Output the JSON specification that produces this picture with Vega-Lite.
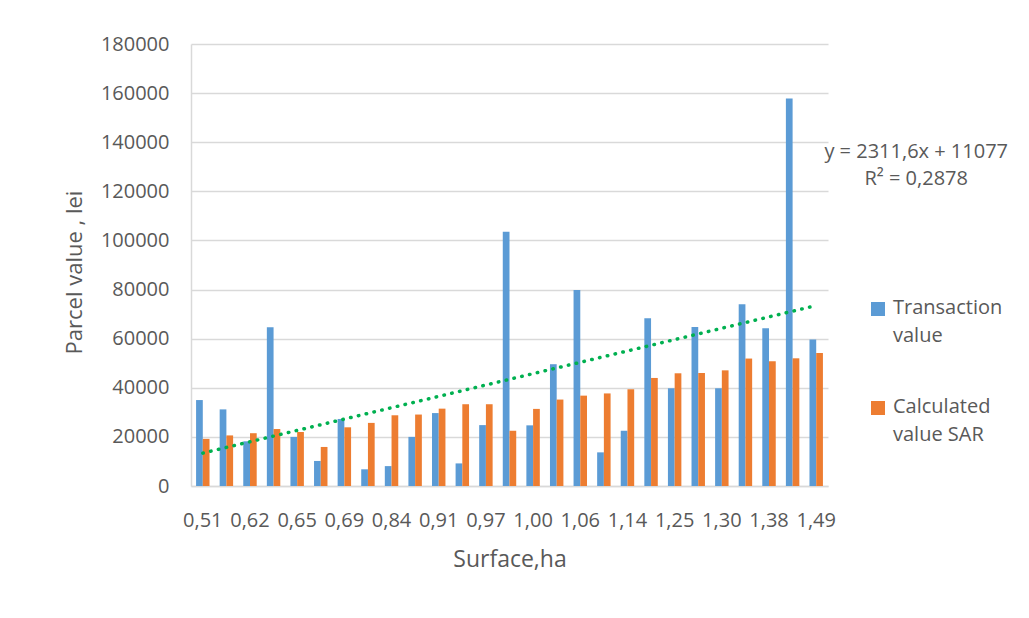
{
  "$schema": "https://vega.github.io/schema/vega-lite/v6.json",
  "width": 637,
  "height": 442,
  "autosize": {"type": "none"},
  "padding": {"left": 191, "top": 44, "right": 201, "bottom": 132},
  "background": "white",
  "config": {
    "view": {"stroke": null},
    "font": "Open Sans",
    "axis": {
      "labelFont": "Open Sans",
      "labelFontSize": 20,
      "labelColor": "#595959",
      "titleFont": "Open Sans",
      "titleFontWeight": "normal",
      "titleColor": "#595959",
      "domainColor": "#d9d9d9",
      "domainWidth": 1.5,
      "gridColor": "#d9d9d9",
      "gridWidth": 1.3,
      "ticks": false
    },
    "legend": {
      "labelFont": "Open Sans",
      "labelFontSize": 20,
      "labelColor": "#595959"
    }
  },
  "datasets": {
    "parcels": [
      {"s": "0,51", "series": "Transaction value", "v": 35000},
      {"s": "0,51", "series": "Calculated value SAR", "v": 19200},
      {"s": "0,55", "series": "Transaction value", "v": 31200},
      {"s": "0,55", "series": "Calculated value SAR", "v": 20600},
      {"s": "0,62", "series": "Transaction value", "v": 18200},
      {"s": "0,62", "series": "Calculated value SAR", "v": 21500},
      {"s": "0,64", "series": "Transaction value", "v": 64600},
      {"s": "0,64", "series": "Calculated value SAR", "v": 23200},
      {"s": "0,65", "series": "Transaction value", "v": 20000},
      {"s": "0,65", "series": "Calculated value SAR", "v": 22000},
      {"s": "0,67", "series": "Transaction value", "v": 10200},
      {"s": "0,67", "series": "Calculated value SAR", "v": 15900},
      {"s": "0,69", "series": "Transaction value", "v": 27300},
      {"s": "0,69", "series": "Calculated value SAR", "v": 23900},
      {"s": "0,78", "series": "Transaction value", "v": 6800},
      {"s": "0,78", "series": "Calculated value SAR", "v": 25700},
      {"s": "0,84", "series": "Transaction value", "v": 8100},
      {"s": "0,84", "series": "Calculated value SAR", "v": 28800},
      {"s": "0,88", "series": "Transaction value", "v": 20000},
      {"s": "0,88", "series": "Calculated value SAR", "v": 29100},
      {"s": "0,91", "series": "Transaction value", "v": 29700},
      {"s": "0,91", "series": "Calculated value SAR", "v": 31500},
      {"s": "0,95", "series": "Transaction value", "v": 9200},
      {"s": "0,95", "series": "Calculated value SAR", "v": 33300},
      {"s": "0,97", "series": "Transaction value", "v": 24800},
      {"s": "0,97", "series": "Calculated value SAR", "v": 33300},
      {"s": "0,99", "series": "Transaction value", "v": 103500},
      {"s": "0,99", "series": "Calculated value SAR", "v": 22500},
      {"s": "1,00", "series": "Transaction value", "v": 24700},
      {"s": "1,00", "series": "Calculated value SAR", "v": 31400},
      {"s": "1,02", "series": "Transaction value", "v": 49600},
      {"s": "1,02", "series": "Calculated value SAR", "v": 35200},
      {"s": "1,06", "series": "Transaction value", "v": 79800},
      {"s": "1,06", "series": "Calculated value SAR", "v": 36800},
      {"s": "1,10", "series": "Transaction value", "v": 13700},
      {"s": "1,10", "series": "Calculated value SAR", "v": 37700},
      {"s": "1,14", "series": "Transaction value", "v": 22500},
      {"s": "1,14", "series": "Calculated value SAR", "v": 39400},
      {"s": "1,20", "series": "Transaction value", "v": 68300},
      {"s": "1,20", "series": "Calculated value SAR", "v": 44000},
      {"s": "1,25", "series": "Transaction value", "v": 39800},
      {"s": "1,25", "series": "Calculated value SAR", "v": 45900},
      {"s": "1,27", "series": "Transaction value", "v": 64800},
      {"s": "1,27", "series": "Calculated value SAR", "v": 46000},
      {"s": "1,30", "series": "Transaction value", "v": 39800},
      {"s": "1,30", "series": "Calculated value SAR", "v": 47100},
      {"s": "1,34", "series": "Transaction value", "v": 74000},
      {"s": "1,34", "series": "Calculated value SAR", "v": 51900},
      {"s": "1,38", "series": "Transaction value", "v": 64200},
      {"s": "1,38", "series": "Calculated value SAR", "v": 50800},
      {"s": "1,42", "series": "Transaction value", "v": 157800},
      {"s": "1,42", "series": "Calculated value SAR", "v": 52000},
      {"s": "1,49", "series": "Transaction value", "v": 59700},
      {"s": "1,49", "series": "Calculated value SAR", "v": 54200}
    ],
    "trend": [
      {"s": "0,51", "trend": 13388.6},
      {"s": "1,49", "trend": 73490.2}
    ]
  },
  "layer": [
    {
      "data": {"name": "parcels"},
      "mark": {"type": "bar"},
      "encoding": {
        "x": {
          "field": "s",
          "type": "nominal",
          "sort": null,
          "scale": {"paddingInner": 0.43, "paddingOuter": 0.215},
          "axis": {
            "title": "Surface,ha",
            "titleFontSize": 23,
            "titlePadding": 18,
            "labelAngle": 0,
            "labelPadding": 24,
            "labelOverlap": false,
            "grid": false,
            "values": ["0,51", "0,62", "0,65", "0,69", "0,84", "0,91", "0,97", "1,00", "1,06", "1,14", "1,25", "1,30", "1,38", "1,49"]
          }
        },
        "xOffset": {
          "field": "series",
          "type": "nominal",
          "sort": ["Transaction value", "Calculated value SAR"]
        },
        "y": {
          "field": "v",
          "type": "quantitative",
          "scale": {"domain": [0, 180000], "nice": false},
          "axis": {
            "title": "Parcel value , lei",
            "titleFontSize": 22,
            "titlePadding": 14,
            "titleY": 228,
            "labelPadding": 22,
            "values": [0, 20000, 40000, 60000, 80000, 100000, 120000, 140000, 160000, 180000],
            "format": "d",
            "grid": true
          }
        },
        "color": {
          "field": "series",
          "type": "nominal",
          "scale": {
            "domain": ["Transaction value", "Calculated value SAR"],
            "range": ["#5B9BD5", "#ED7D31"]
          },
          "legend": {
            "title": null,
            "orient": "none",
            "legendX": 677,
            "legendY": 255,
            "symbolType": "square",
            "symbolSize": 196,
            "symbolStrokeWidth": 0,
            "labelOffset": 5,
            "labelBaseline": "top",
            "rowPadding": 51,
            "padding": 0,
            "labelExpr": "datum.label == 'Transaction value' ? ['Transaction', 'value'] : ['Calculated', 'value SAR']",
            "encode": {
              "labels": {
                "update": {
                  "lineHeight": {"value": 28},
                  "dy": {"value": -11}
                }
              }
            }
          }
        }
      }
    },
    {
      "data": {"name": "trend"},
      "mark": {
        "type": "line",
        "color": "#00B050",
        "strokeWidth": 3.5,
        "strokeDash": [0.5, 7.5],
        "strokeCap": "round"
      },
      "encoding": {
        "x": {"field": "s", "type": "nominal", "sort": null},
        "y": {"field": "trend", "type": "quantitative"}
      }
    },
    {
      "data": {"values": [{"eq": "y = 2311,6x + 11077", "r2": "R² = 0,2878"}]},
      "mark": {
        "type": "text",
        "font": "Open Sans",
        "fontSize": 20,
        "color": "#595959",
        "align": "center",
        "baseline": "alphabetic",
        "lineHeight": 27,
        "dx": 100,
        "text": ["y = 2311,6x + 11077", "R² = 0,2878"]
      },
      "encoding": {
        "x": {"datum": "1,49", "type": "nominal"},
        "y": {"datum": 133600, "type": "quantitative"}
      }
    }
  ]
}
